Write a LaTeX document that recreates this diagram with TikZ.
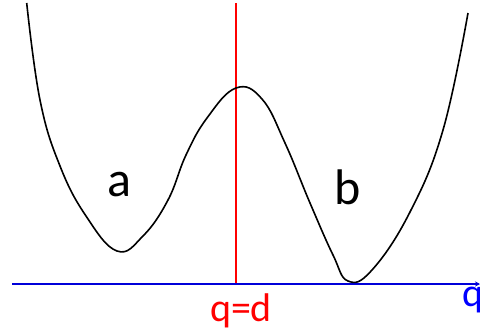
\documentclass[tikz,border=0pt]{standalone}
\usepackage{fontspec}
\setmainfont{Carlito}
\usetikzlibrary{arrows.meta}
\begin{document}
\begin{tikzpicture}[x=1pt,y=-1pt,
  curve/.style={line width=1.6pt,black},
  lbl/.style={inner sep=0pt,font=\fontsize{50}{54}\selectfont},
  small/.style={inner sep=0pt,font=\fontsize{40}{44}\selectfont},
  axis/.style={line width=1.3pt,blue!85!black,-{Stealth[length=5pt,width=5pt]}},
  divider/.style={line width=1.1pt,red}]
\clip (0,0) rectangle (480,330);
\useasboundingbox (0,0) rectangle (480,330);
\coordinate (axl) at (12,284);
\coordinate (axr) at (480,284);
\coordinate (rt) at (236,3);
\coordinate (rb) at (236,284);
\draw[divider] (rt) -- (rb);
\draw[axis] (axl) -- (axr);
\draw[curve] plot[smooth,tension=0.7] coordinates {
 (26.7,3) (40,100) (60,166) (86,216) (117,251)
 (143,236) (168,200) (186,155) (207,118) (236,88)
 (262,99) (285,143) (310,203) (333,255) (348,281)
 (372,270) (410,212) (443,130) (468,13)};
\node[lbl] (a) at (119,185) {a};
\node[lbl] (b) at (348,187) {b};
\node[small,text=red] (qd) at (241,311) {q=d};
\node[small,text=blue,anchor=west] (q) at (462,300) {q};
\end{tikzpicture}
\end{document}
